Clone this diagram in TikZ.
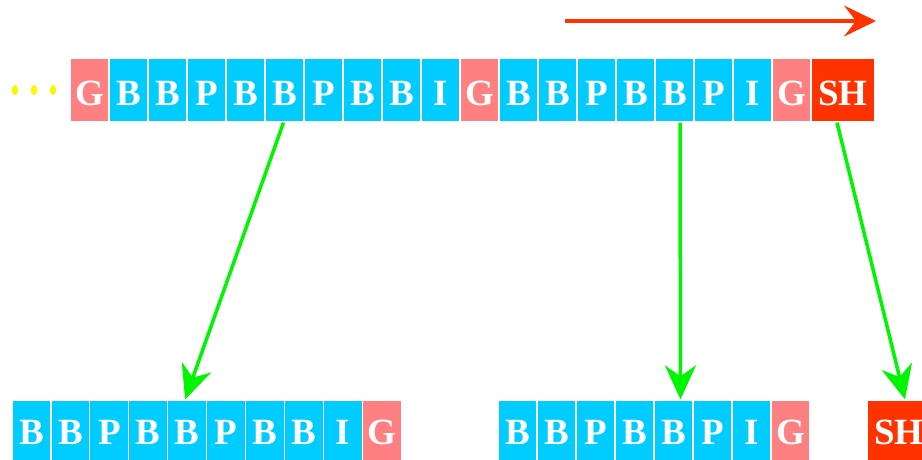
\documentclass[tikz,border=0pt]{standalone}
\usepackage{fontspec}
\setmainfont{Liberation Serif}
\usetikzlibrary{arrows.meta,calc}
\definecolor{cyanbox}{HTML}{00CCFF}
\definecolor{pinkbox}{HTML}{FF8080}
\definecolor{redbox}{HTML}{FF3300}
\definecolor{arrgreen}{HTML}{00F500}
\definecolor{dotyellow}{HTML}{F8F800}
\tikzset{
  cell/.style={draw=white, line width=1.2pt, minimum width=39pt, minimum height=64pt,
    inner sep=0pt, text=white, font=\bfseries\fontsize{37pt}{37pt}\selectfont},
  toptext/.style={text height=31.5pt, text depth=0pt},
  cB/.style={fill=cyanbox}, cP/.style={fill=cyanbox}, cI/.style={fill=cyanbox},
  cG/.style={fill=pinkbox},
  shcell/.style={cell, fill=redbox, minimum width=64pt},
  flow/.style={draw=arrgreen, line width=3.5pt, -{Stealth[length=34pt,width=31pt,inset=11pt]}},
  dir/.style={draw=redbox, line width=3.2pt, -{Stealth[length=32pt,width=31pt,inset=12pt]}},
  dotmark/.style={fill=dotyellow}
}
\begin{document}
\begin{tikzpicture}[x=1pt,y=-1pt]
\clip (0,0) rectangle (922,460);
% top row
\foreach \l [count=\i from 0] in {G,B,B,P,B,B,P,B,B,I,G,B,B,P,B,B,P,I,G}{
  \node[cell, c\l, toptext] (t\i) at ({70+39*\i+19.5},90) {\l};
}
\node[shcell, toptext] (tsh) at (843,90) {SH};
% dots
\foreach \x [count=\k] in {15,34,53}{
  \fill[dotmark] (\x,90) ellipse [x radius=3.2pt, y radius=5pt];
}
% bottom row 1
\foreach \l [count=\i from 0] in {B,B,P,B,B,P,B,B,I,G}{
  \node[cell, c\l] (a\i) at ({12+38.9*\i+19.5},432) {\l};
}
% bottom row 2
\foreach \l [count=\i from 0] in {B,B,P,B,B,P,I,G}{
  \node[cell, c\l] (b\i) at ({498+39*\i+19.5},432) {\l};
}
\node[shcell] (bsh) at (899,432) {SH};
% red direction arrow
\coordinate (rs) at (565,21);
\coordinate (re) at (876,21);
\draw[dir] (rs) -- (re);
% green arrows
\draw[flow] ($(t5.south)+(-1,0)$) -- ($(a4.north)+(-2,0)$);
\draw[flow] ($(t15.south)+(5.5,0)$) -- ($(b4.north)+(7,0)$);
\draw[flow] ($(tsh.south)+(-6,0)$) -- ($(bsh.north)+(6,0)$);
\end{tikzpicture}
\end{document}
